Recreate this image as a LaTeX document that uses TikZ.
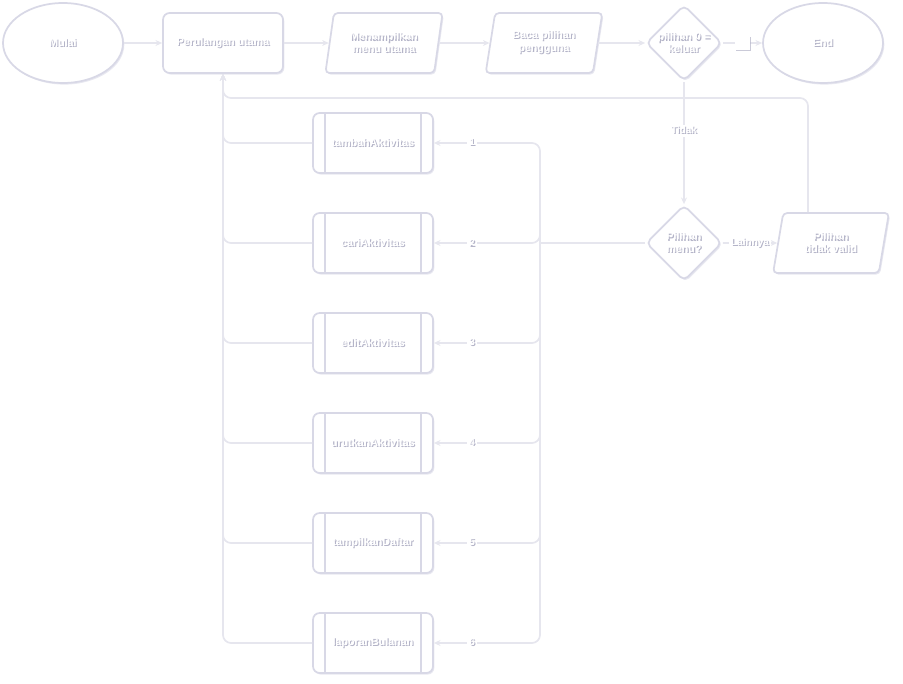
\documentclass[tikz,border=0pt]{standalone}
\usepackage{fontspec}
\setmainfont{Liberation Sans}
\usetikzlibrary{shapes.geometric,arrows.meta,shadows}
\definecolor{bord}{HTML}{D8D8E6}
\definecolor{lin}{HTML}{E6E6EE}
\definecolor{shc}{HTML}{B4B4C8}
\newcommand\sht[1]{\leavevmode\rlap{\kern0.8pt\raisebox{-0.8pt}{\color{shc}#1}}{\color{white}#1}}
\begin{document}
\begin{tikzpicture}[x=0.75pt,y=-0.75pt, font=\fontsize{8}{9.5}\selectfont\bfseries,
 base/.style={draw=bord, line width=1.3pt, fill=white, drop shadow={shadow xshift=1pt,shadow yshift=-1.2pt,fill=bord,opacity=0.6}, align=center},
 term/.style={base, ellipse, minimum width=90pt, minimum height=60pt},
 proc/.style={base, rectangle, rounded corners=5pt, minimum width=90pt, minimum height=45pt},
 io/.style={base, trapezium, trapezium left angle=78, trapezium right angle=102, trapezium stretches=true, minimum width=88pt, minimum height=45pt, rounded corners=3pt},
 dec/.style={base, diamond, minimum width=57pt, minimum height=57pt, inner sep=0pt, rounded corners=4pt},
 flow/.style={draw=lin, line width=1.3pt, -{Stealth[length=5pt,width=4.5pt]}, rounded corners=6pt},
 lab/.style={fill=white, inner sep=1.5pt, sharp corners, font=\fontsize{7.5}{9}\selectfont\bfseries}
]
\useasboundingbox (0,0) rectangle (903,684);
\node[term] (mulai) at (63,43) {\sht{Mulai}};
\node[proc] (loop) at (223,43) {\sht{Perulangan utama}};
\node[io] (tampil) at (384,43) {\sht{Menampilkan}\\\sht{menu utama}};
\node[io] (baca) at (544,43) {\sht{Baca pilihan}\\\sht{pengguna}};
\node[dec] (keluar) at (684,43) {\sht{pilihan 0 =}\\\sht{keluar}};
\node[term] (end) at (823,43) {\sht{End}};
\node[dec] (menu) at (684,243) {\sht{Pilihan}\\\sht{menu?}};
\node[io, minimum width=87pt] (invalid) at (831,243) {\sht{Pilihan}\\\sht{tidak valid}};
\foreach \n/\t/\y in {1/tambahAktivitas/143,2/cariAktivitas/243,3/editAktivitas/343,4/urutkanAktivitas/443,5/tampilkanDaftar/543,6/laporanBulanan/643}{
  \node[proc] (s\n) at (373,\y) {\sht{\t}};
  \draw[draw=bord, line width=1.3pt] ([xshift=9.75pt]s\n.north west) -- ([xshift=9.75pt]s\n.south west);
  \draw[draw=bord, line width=1.3pt] ([xshift=-9.75pt]s\n.north east) -- ([xshift=-9.75pt]s\n.south east);
}
\draw[flow] (mulai) -- (loop);
\draw[flow] (loop) -- (tampil);
\draw[flow] (tampil) -- (baca);
\draw[flow] (baca) -- (keluar);
\draw[flow] (keluar) -- node[lab, rectangle, minimum width=9pt, minimum height=10pt, drop shadow={shadow xshift=0.8pt,shadow yshift=-0.8pt,fill=shc,opacity=0.7}]{\color{white}Ya} (end);
\draw[flow] (keluar) -- node[lab,pos=0.4]{\sht{Tidak}} (menu);
\draw[flow] (menu) -- node[lab]{\sht{Lainnya}} (invalid);
\coordinate (back) at (223,98);
\draw[flow] ([xshift=-17.25pt]invalid.north) |- (back) -- (loop.south);
\coordinate (j) at (540,243);
\draw[flow,-] (menu) -- (j);
\foreach \n in {1,...,6}{
  \draw[flow] (j) |- node[lab,pos=0.82]{\sht{\n}} (s\n.east);
  \draw[flow] (s\n.west) -| (loop.south);
}
\end{tikzpicture}
\end{document}
